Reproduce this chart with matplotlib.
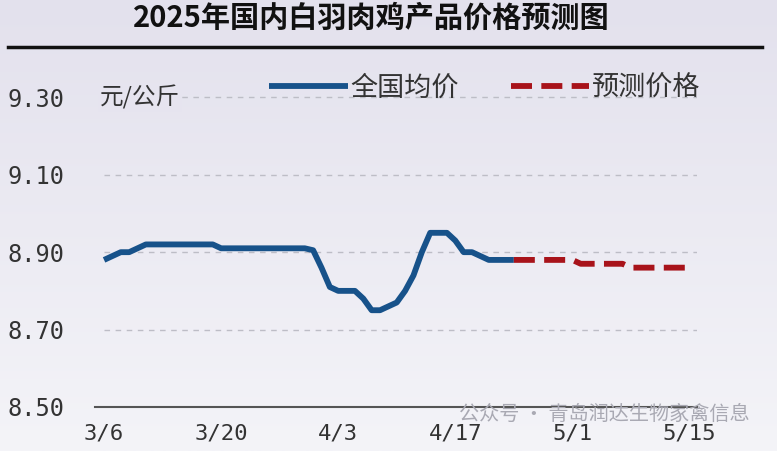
import numpy as np
import pandas as pd
import matplotlib
matplotlib.use("Agg")
import matplotlib.pyplot as plt
from matplotlib.lines import Line2D

plt.rcParams['font.family'] = ['Noto Sans CJK SC', 'DejaVu Sans']

# national average price, daily from 3/6 to 4/24
actual_price = [8.88, 8.89, 8.90, 8.90, 8.91,
                8.92, 8.92, 8.92, 8.92, 8.92, 8.92, 8.92, 8.92, 8.92,
                8.91, 8.91, 8.91, 8.91, 8.91, 8.91, 8.91, 8.91, 8.91, 8.91, 8.91,
                8.905, 8.86, 8.81, 8.80, 8.80, 8.80, 8.78, 8.75, 8.75, 8.76, 8.77,
                8.80, 8.84, 8.90, 8.95, 8.95, 8.95, 8.93, 8.90, 8.90, 8.89,
                8.88, 8.88, 8.88, 8.88]
# forecast, daily from 4/24 to 5/15
forecast_price = [8.88, 8.88, 8.88, 8.88, 8.88, 8.88, 8.88, 8.88,
                  8.87, 8.87, 8.87, 8.87, 8.87, 8.87,
                  8.86, 8.86, 8.86, 8.86, 8.86, 8.86, 8.86, 8.86]

actual_dates = pd.date_range("2025-03-06", periods=len(actual_price), freq="D")
forecast_dates = pd.date_range("2025-04-24", periods=len(forecast_price), freq="D")
tick_dates = pd.date_range("2025-03-06", "2025-05-15", freq="14D")
y_ticks = [8.50, 8.70, 8.90, 9.10, 9.30]

blue = '#17528a'
red = '#a8131a'

fig = plt.figure(figsize=(7.77, 4.51), dpi=100)

# soft background gradient
bg = fig.add_axes([0, 0, 1, 1], zorder=-10)
grad = np.linspace(0, 1, 256).reshape(-1, 1)
bg.imshow(grad, aspect='auto', cmap=matplotlib.colors.LinearSegmentedColormap.from_list(
    'bg', ['#e3e1ed', '#f4f4f8']), extent=[0, 1, 0, 1])
bg.axis('off')

fig.text(0.478, 0.96, "2025年国内白羽肉鸡产品价格预测图", ha='center', va='center',
         fontsize=21, fontweight='bold', color='#111111')
fig.add_artist(Line2D([0.01, 0.981], [0.895, 0.895], color='#111111', lw=2.5))

ax = fig.add_axes([0.1223, 0.0976, 0.7747, 0.738])
ax.patch.set_alpha(0)

x0 = actual_dates[0]
ax.set_xlim(x0 - pd.Timedelta(days=1.08), x0 + pd.Timedelta(days=70.9))
ax.set_ylim(8.50, 9.36)

for y in y_ticks[1:]:
    ax.hlines(y, x0, ax.get_xlim()[1], colors='#bdbdc6', linestyles=(0, (4, 4)), lw=1, zorder=1)

ax.plot(actual_dates, actual_price, color=blue, lw=4.2, solid_joinstyle='round',
        solid_capstyle='butt', zorder=3, label='全国均价')
ax.plot(forecast_dates, forecast_price, color=red, lw=4.2, dashes=(3.6, 1.6),
        zorder=3, label='预测价格')

for s in ['top', 'right', 'left']:
    ax.spines[s].set_visible(False)
ax.spines['bottom'].set_color('#555555')
ax.spines['bottom'].set_linewidth(1.5)

ax.set_yticks(y_ticks)
ax.set_yticklabels([f"{v:.2f}" for v in y_ticks], family='DejaVu Sans Mono',
                   fontsize=17, color='#333333')
ax.set_xticks(tick_dates)
ax.set_xticklabels([f"{d.month}/{d.day}" for d in tick_dates], family='DejaVu Sans Mono',
                   fontsize=16, color='#333333')
ax.tick_params(axis='y', length=0, pad=22)
ax.tick_params(axis='x', length=0, pad=12)

ax.text(x0 - pd.Timedelta(days=0.5), 9.30, "元/公斤", ha='left', va='center',
        fontsize=17, color='#333333', zorder=2,
        bbox=dict(boxstyle='square,pad=0.1', fc='#e6e4ef', ec='none'))

fig.legend(loc='center', bbox_to_anchor=(0.624, 0.805), ncol=2, frameon=False,
           fontsize=19.5, handlelength=2.9, handletextpad=0.1, columnspacing=1.9,
           labelcolor='#333333')

fig.text(0.965, 0.082, "公众号 · 青岛润达生物家禽信息", ha='right', va='center',
         fontsize=14.5, color='#a9a9b3')

fig.savefig("out.png", dpi=100)
